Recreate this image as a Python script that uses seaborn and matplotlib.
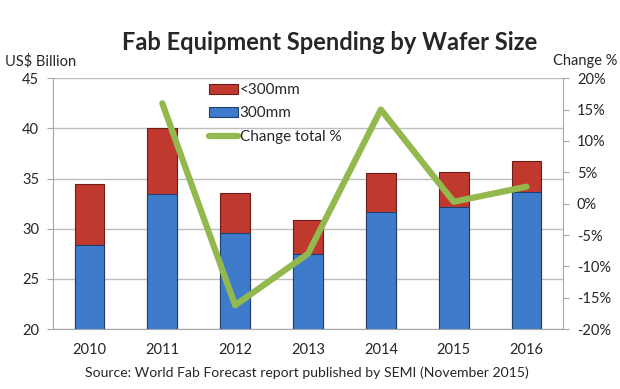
import numpy as np
import pandas as pd
import matplotlib
matplotlib.use("Agg")
import matplotlib.pyplot as plt
import seaborn as sns
from matplotlib.patches import Patch
from matplotlib.lines import Line2D
from matplotlib.ticker import MultipleLocator, FixedLocator, FuncFormatter

# -------------------------
# DATA
# -------------------------
years = ["2010", "2011", "2012", "2013", "2014", "2015", "2016"]
spend_300mm = [28.4, 33.45, 29.6, 27.5, 31.7, 32.2, 33.7]
spend_total = [34.5, 40.0, 33.6, 30.9, 35.6, 35.7, 36.7]
change_years = ["2011", "2012", "2013", "2014", "2015", "2016"]
change_pct = [16.0, -16.2, -8.0, 15.0, 0.3, 2.7]

RED = "#C0392F"
BLUE = "#3E7CCB"
GREEN = "#93B84E"
GRID = "#BDBDBD"

df = pd.DataFrame({"year": years, "s300": spend_300mm, "total": spend_total})
pos = {y: i for i, y in enumerate(years)}
line_df = pd.DataFrame({"x": [pos[y] for y in change_years], "chg": change_pct})

# -------------------------
# FIGURE
# -------------------------
sns.set_style("white")
plt.rcParams["font.family"] = ["Lato", "DejaVu Sans"]

fig = plt.figure(figsize=(6.2, 3.89), dpi=100)
ax = fig.add_axes([0.0855, 0.154, 0.8225, 0.645])

# stacked bars: total (red) behind, 300mm (blue) in front
sns.barplot(data=df, x="year", y="total", color=RED, width=0.41,
            saturation=1, edgecolor="#6e1c18", linewidth=0.8, ax=ax, zorder=2)
sns.barplot(data=df, x="year", y="s300", color=BLUE, width=0.41,
            saturation=1, edgecolor="#1f3f6e", linewidth=0.8, ax=ax, zorder=3)

ax.set_ylim(20, 45)
ax.set_xlim(-0.5, 6.5)
ax.yaxis.set_major_locator(MultipleLocator(5))
ax.grid(axis="y", color=GRID, linewidth=1, zorder=0)
ax.set_axisbelow(True)
ax.set_xlabel("")
ax.set_ylabel("")

for s in ["top", "right"]:
    ax.spines[s].set_visible(False)
for s in ["left", "bottom"]:
    ax.spines[s].set_color("#A6A6A6")

ax.xaxis.set_minor_locator(FixedLocator(np.arange(-0.5, 7, 1)))
ax.tick_params(axis="x", which="major", length=0, labelsize=10.5, pad=10)
ax.tick_params(axis="x", which="minor", length=4, color="#A6A6A6", direction="out")
ax.tick_params(axis="y", length=4, color="#A6A6A6", labelsize=10.5, pad=6)

# change line on the secondary axis
ax2 = ax.twinx()
sns.lineplot(data=line_df, x="x", y="chg", color=GREEN, linewidth=4.5,
             ax=ax2, zorder=4)
ax2.set_ylim(-20, 20)
ax2.set_xlim(-0.5, 6.5)
ax2.yaxis.set_major_locator(MultipleLocator(5))
ax2.yaxis.set_major_formatter(FuncFormatter(lambda v, p: f"{v:.0f}%"))
ax2.set_ylabel("")
ax2.set_xlabel("")
for s in ["top", "left", "bottom"]:
    ax2.spines[s].set_visible(False)
ax2.spines["right"].set_color("#A6A6A6")
ax2.tick_params(axis="y", length=4, color="#A6A6A6", labelsize=10.5, pad=6)

# legend
handles = [
    Patch(facecolor=RED, edgecolor="#6e1c18", linewidth=0.8),
    Patch(facecolor=BLUE, edgecolor="#1f3f6e", linewidth=0.8),
    Line2D([0], [0], color=GREEN, linewidth=4.5),
]
ax2.legend(handles, ["<300mm", "300mm", "Change total %"],
           loc="upper left", bbox_to_anchor=(0.29, 1.01), frameon=False,
           fontsize=11, handlelength=1.9, handleheight=0.6,
           handletextpad=0.15, labelspacing=0.6, borderaxespad=0.1)

# texts
fig.text(0.532, 0.892, "Fab Equipment Spending by Wafer Size",
         ha="center", va="center", fontsize=17, fontweight="bold")
fig.text(0.008, 0.843, "US$ Billion", ha="left", va="center", fontsize=10.5)
fig.text(0.995, 0.843, "Change %", ha="right", va="center", fontsize=10.5)
fig.text(0.495, 0.043,
         "Source: World Fab Forecast report published by SEMI (November 2015)",
         ha="center", va="center", fontsize=10.1)

fig.savefig("out.png", dpi=100)
